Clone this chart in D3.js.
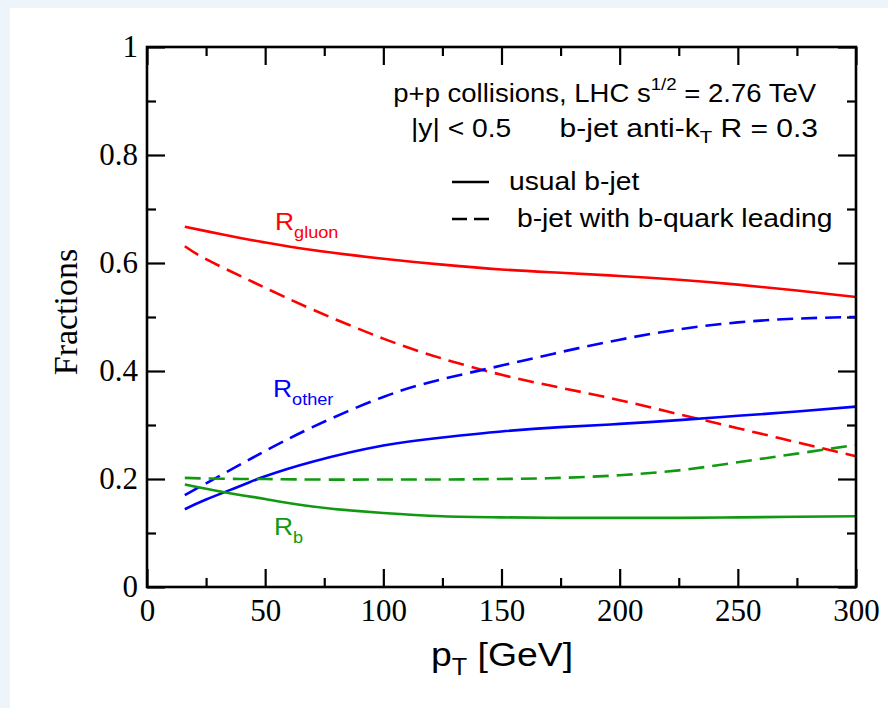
<!DOCTYPE html>
<html>
<head>
<meta charset="utf-8">
<script src="https://cdn.jsdelivr.net/npm/d3@7"></script>
<style>
  body { margin: 0; background: #ffffff; }
  svg { display: block; }
</style>
</head>
<body>
<div id="sandbox"></div>
<script>
// values
var pt = [16, 25, 40, 50, 70, 100, 125, 150, 175, 200, 225, 250, 275, 300];
var gluonUsual = [0.667, 0.659, 0.646, 0.638, 0.624, 0.608, 0.597, 0.588, 0.582, 0.576, 0.569, 0.560, 0.549, 0.537];
var gluonLead  = [0.631, 0.607, 0.575, 0.554, 0.514, 0.460, 0.423, 0.393, 0.369, 0.346, 0.320, 0.294, 0.268, 0.242];
var otherUsual = [0.144, 0.162, 0.188, 0.205, 0.232, 0.262, 0.277, 0.288, 0.296, 0.302, 0.309, 0.317, 0.325, 0.334];
var otherLead  = [0.170, 0.192, 0.228, 0.252, 0.296, 0.352, 0.385, 0.410, 0.435, 0.458, 0.477, 0.490, 0.497, 0.500];
var bUsual     = [0.190, 0.182, 0.170, 0.163, 0.149, 0.137, 0.131, 0.129, 0.128, 0.128, 0.128, 0.129, 0.130, 0.131];
var bLead      = [0.202, 0.201, 0.200, 0.200, 0.199, 0.199, 0.199, 0.200, 0.202, 0.207, 0.216, 0.231, 0.247, 0.263];

var xMajor = [0, 50, 100, 150, 200, 250, 300];
var xMinor = [25, 75, 125, 175, 225, 275];
var yMajor = [0, 0.2, 0.4, 0.6, 0.8, 1];
var yMinor = [0.1, 0.3, 0.5, 0.7, 0.9];
var yLabels = ['0', '0.2', '0.4', '0.6', '0.8', '1'];

var red = '#ff0000', blue = '#0000ff', green = '#119911';

var svg = d3.select('#sandbox').append('svg')
    .attr('width', 888)
    .attr('height', 708);

// pale page edge
svg.append('rect').attr('x', 0).attr('y', 0).attr('width', 888).attr('height', 708).attr('fill', '#eef5fa');
svg.append('rect').attr('x', 10).attr('y', 8).attr('width', 878).attr('height', 700).attr('fill', '#ffffff');

var L = 147, R = 856, T = 47, B = 587;
var x = d3.scaleLinear().domain([0, 300]).range([L, R]);
var y = d3.scaleLinear().domain([0, 1]).range([B, T]);

// axes, ticks pointing inwards
function ticks(axis, pos, size, vals, fmt) {
    var g = svg.append('g').attr('transform', pos)
        .call(axis.tickValues(vals).tickSizeInner(size).tickSizeOuter(0).tickFormat(fmt));
    g.select('.domain').remove();
    g.selectAll('.tick line').attr('stroke', '#000').attr('stroke-width', 2.2);
    return g;
}
var none = function() { return ''; };
var xb = ticks(d3.axisBottom(x), 'translate(0,' + B + ')', -18, xMajor, d3.format('d'));
ticks(d3.axisBottom(x), 'translate(0,' + B + ')', -9, xMinor, none);
ticks(d3.axisTop(x), 'translate(0,' + T + ')', -18, xMajor, none);
ticks(d3.axisTop(x), 'translate(0,' + T + ')', -9, xMinor, none);
var yl = ticks(d3.axisLeft(y), 'translate(' + L + ',0)', -18, yMajor, function(d, i) { return yLabels[i]; });
ticks(d3.axisLeft(y), 'translate(' + L + ',0)', -9, yMinor, none);
ticks(d3.axisRight(y), 'translate(' + R + ',0)', -18, yMajor, none);
ticks(d3.axisRight(y), 'translate(' + R + ',0)', -9, yMinor, none);

xb.selectAll('.tick text')
    .attr('y', 12).attr('dy', '0.71em')
    .attr('font-family', 'Liberation Serif').attr('font-size', 31).attr('fill', '#000');
yl.selectAll('.tick text')
    .attr('x', -9).attr('dy', '0.32em')
    .attr('font-family', 'Liberation Serif').attr('font-size', 31).attr('fill', '#000');

// curves
var series = [
    { v: gluonUsual, c: red, dash: null },
    { v: gluonLead, c: red, dash: '16,8' },
    { v: otherUsual, c: blue, dash: null },
    { v: otherLead, c: blue, dash: '16,8' },
    { v: bUsual, c: green, dash: null },
    { v: bLead, c: green, dash: '16,8' }
];
var line = d3.line()
    .x(function(d) { return x(d[0]); })
    .y(function(d) { return y(d[1]); })
    .curve(d3.curveNatural);
series.forEach(function(s) {
    svg.append('path')
        .attr('d', line(pt.map(function(p, i) { return [p, s.v[i]]; })))
        .attr('fill', 'none')
        .attr('stroke', s.c)
        .attr('stroke-width', 2.6)
        .attr('stroke-dasharray', s.dash);
});

// frame
svg.append('rect')
    .attr('x', L).attr('y', T).attr('width', R - L).attr('height', B - T)
    .attr('fill', 'none').attr('stroke', '#000').attr('stroke-width', 2.6);

// axis titles
svg.append('text')
    .attr('transform', 'translate(77,312) rotate(-90)')
    .attr('text-anchor', 'middle')
    .attr('font-family', 'Liberation Serif').attr('font-size', 34)
    .text('Fractions');

// sans text in the picture is a little wider than Liberation Sans
var sans = 'Liberation Sans';
function stext(xp, yp, size, anchor, col, sx) {
    return svg.append('text')
        .attr('transform', 'translate(' + xp + ',' + yp + ') scale(' + (sx || 1.1) + ',1)')
        .attr('text-anchor', anchor)
        .attr('font-family', sans).attr('font-size', size)
        .attr('fill', col || '#000');
}

var xt = stext(502, 666, 34, 'middle');
xt.append('tspan').text('p');
xt.append('tspan').attr('font-size', 23).attr('dy', 9).text('T');
xt.append('tspan').attr('dy', -9).text(' [GeV]');

// header text
var h1 = stext(816, 102, 25, 'end');
h1.append('tspan').text('p+p collisions, LHC s');
h1.append('tspan').attr('font-size', 17).attr('dy', -12).text('1/2');
h1.append('tspan').attr('dy', 12).text(' = 2.76 TeV');

stext(411, 137, 25, 'start', '#000', 1.13).text('|y| < 0.5');
var h2 = stext(818, 137, 25, 'end', '#000', 1.2);
h2.append('tspan').text('b-jet anti-k');
h2.append('tspan').attr('font-size', 17).attr('dy', 6).text('T');
h2.append('tspan').attr('dy', -6).text(' R = 0.3');

// legend
svg.append('line').attr('x1', 452).attr('x2', 489).attr('y1', 182).attr('y2', 182)
    .attr('stroke', '#000').attr('stroke-width', 2.4);
stext(509, 190, 25, 'start', '#000', 1.13).text('usual b-jet');
svg.append('line').attr('x1', 452).attr('x2', 489).attr('y1', 219).attr('y2', 219)
    .attr('stroke', '#000').attr('stroke-width', 2.4).attr('stroke-dasharray', '15,7');
stext(517, 227, 25, 'start', '#000', 1.13).text('b-jet with b-quark leading');

// curve labels
function rlabel(xp, yp, sub, col) {
    var t = stext(xp, yp, 24, 'start', col);
    t.append('tspan').text('R');
    t.append('tspan').attr('font-size', 16.5).attr('dy', 8).text(sub);
}
rlabel(275, 230, 'gluon', red);
rlabel(273, 397, 'other', blue);
rlabel(274, 535, 'b', green);
</script>
</body>
</html>
